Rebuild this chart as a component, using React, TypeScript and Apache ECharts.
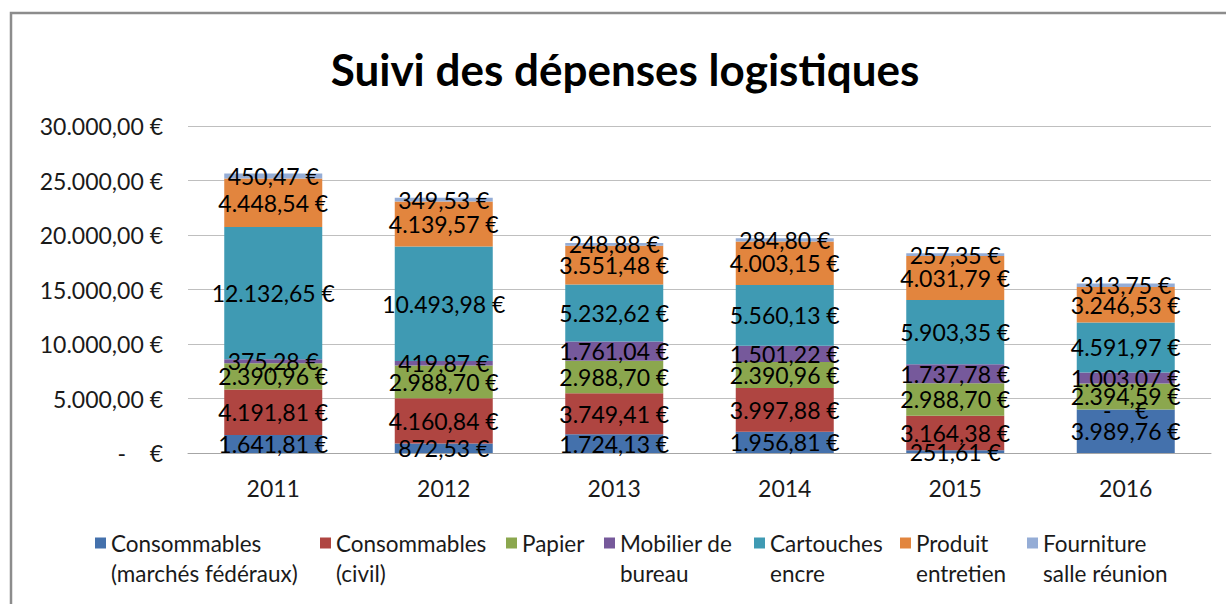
import React, { useEffect, useRef } from "react";
import * as echarts from "echarts";

const years = ["2011", "2012", "2013", "2014", "2015", "2016"];
const seriesNames = [
  "Consommables (marchés fédéraux)",
  "Consommables (civil)",
  "Papier",
  "Mobilier de bureau",
  "Cartouches encre",
  "Produit entretien",
  "Fourniture salle réunion",
];
const legendLabels = [
  "\nConsommables\n(marchés fédéraux)",
  "\nConsommables\n(civil)",
  "\nPapier\n ",
  "\nMobilier de\nbureau",
  "\nCartouches\nencre",
  "\nProduit\nentretien",
  "\nFourniture\nsalle réunion",
];
const consFed = [1641.81, 872.53, 1724.13, 1956.81, 251.61, 3989.76];
const consCivil = [4191.81, 4160.84, 3749.41, 3997.88, 3164.38, 0];
const papier = [2390.96, 2988.7, 2988.7, 2390.96, 2988.7, 2394.59];
const mobilier = [375.28, 419.87, 1761.04, 1501.22, 1737.78, 1003.07];
const cartouches = [12132.65, 10493.98, 5232.62, 5560.13, 5903.35, 4591.97];
const produit = [4448.54, 4139.57, 3551.48, 4003.15, 4031.79, 3246.53];
const fourniture = [450.47, 349.53, 248.88, 284.8, 257.35, 313.75];
const allValues = [consFed, consCivil, papier, mobilier, cartouches, produit, fourniture];
const colors = ["#4471AC", "#AF4541", "#8BA74E", "#76599B", "#3F9AB3", "#E2853E", "#95ADD6"];
const legendTextX = [111, 336, 522, 620, 770, 916, 1043];

const FONT = "Lato, 'Open Sans', sans-serif";

function fmt(v: number): string {
  if (v === 0) return "-    €";
  const [i, d] = v.toFixed(2).split(".");
  return i.replace(/\B(?=(\d{3})+(?!\d))/g, ".") + "," + d + " €";
}

export default function App() {
  const ref = useRef<HTMLDivElement>(null);
  useEffect(() => {
    if (!ref.current) return;
    const chart = echarts.init(ref.current, null, { renderer: "svg" });
    const series = seriesNames.map((name, k) => ({
      name,
      type: "bar",
      stack: "total",
      barWidth: 98,
      data: allValues[k],
      itemStyle: { color: colors[k] },
      label: {
        show: true,
        position: "inside",
        color: "#000",
        fontSize: 23,
        fontFamily: FONT,
        textBorderWidth: 0,
        formatter: (p: any) => fmt(p.value),
      },
    }));
    const iconW = 11;
    const legends = seriesNames.map((name, k) => ({
      data: [name],
      left: legendTextX[k] - iconW - 5,
      top: 498,
      padding: 0,
      itemGap: 0,
      icon: "rect",
      itemWidth: iconW,
      itemHeight: iconW,
      formatter: () => legendLabels[k],
      textStyle: {
        fontSize: 22.5,
        fontFamily: FONT,
        color: "#1a1a1a",
        lineHeight: 30,
      },
    }));
    chart.setOption({
      animation: false,
      backgroundColor: "#fff",
      title: {
        text: "Suivi des dépenses logistiques",
        left: 620,
        top: 42,
        textAlign: "center",
        textStyle: { fontSize: 44, fontWeight: "bold", fontFamily: FONT, color: "#000" },
      },
      graphic: [
        {
          type: "rect",
          shape: { x: 11, y: 13, width: 1400, height: 800 },
          style: { fill: "none", stroke: "#8c8c8c", lineWidth: 2.5 },
          silent: true,
        },
      ],
      legend: legends,
      grid: { left: 188, right: 15, top: 126, bottom: 151, containLabel: false },
      xAxis: {
        type: "category",
        data: years,
        axisTick: { show: false },
        axisLine: { lineStyle: { color: "#a6a6a6", width: 1 } },
        axisLabel: { fontSize: 23, fontFamily: FONT, color: "#1a1a1a", margin: 23 },
      },
      yAxis: {
        type: "value",
        min: 0,
        max: 30000,
        interval: 5000,
        axisLine: { show: false },
        axisTick: { show: false },
        splitLine: { lineStyle: { color: "#bfbfbf", width: 1 } },
        axisLabel: {
          fontSize: 23,
          fontFamily: FONT,
          color: "#1a1a1a",
          margin: 25,
          formatter: (v: number) => fmt(v),
        },
      },
      series,
    });
    return () => chart.dispose();
  }, []);
  return (
    <div
      ref={ref}
      style={{ position: "absolute", left: 0, top: 0, width: 1226, height: 604 }}
    />
  );
}
